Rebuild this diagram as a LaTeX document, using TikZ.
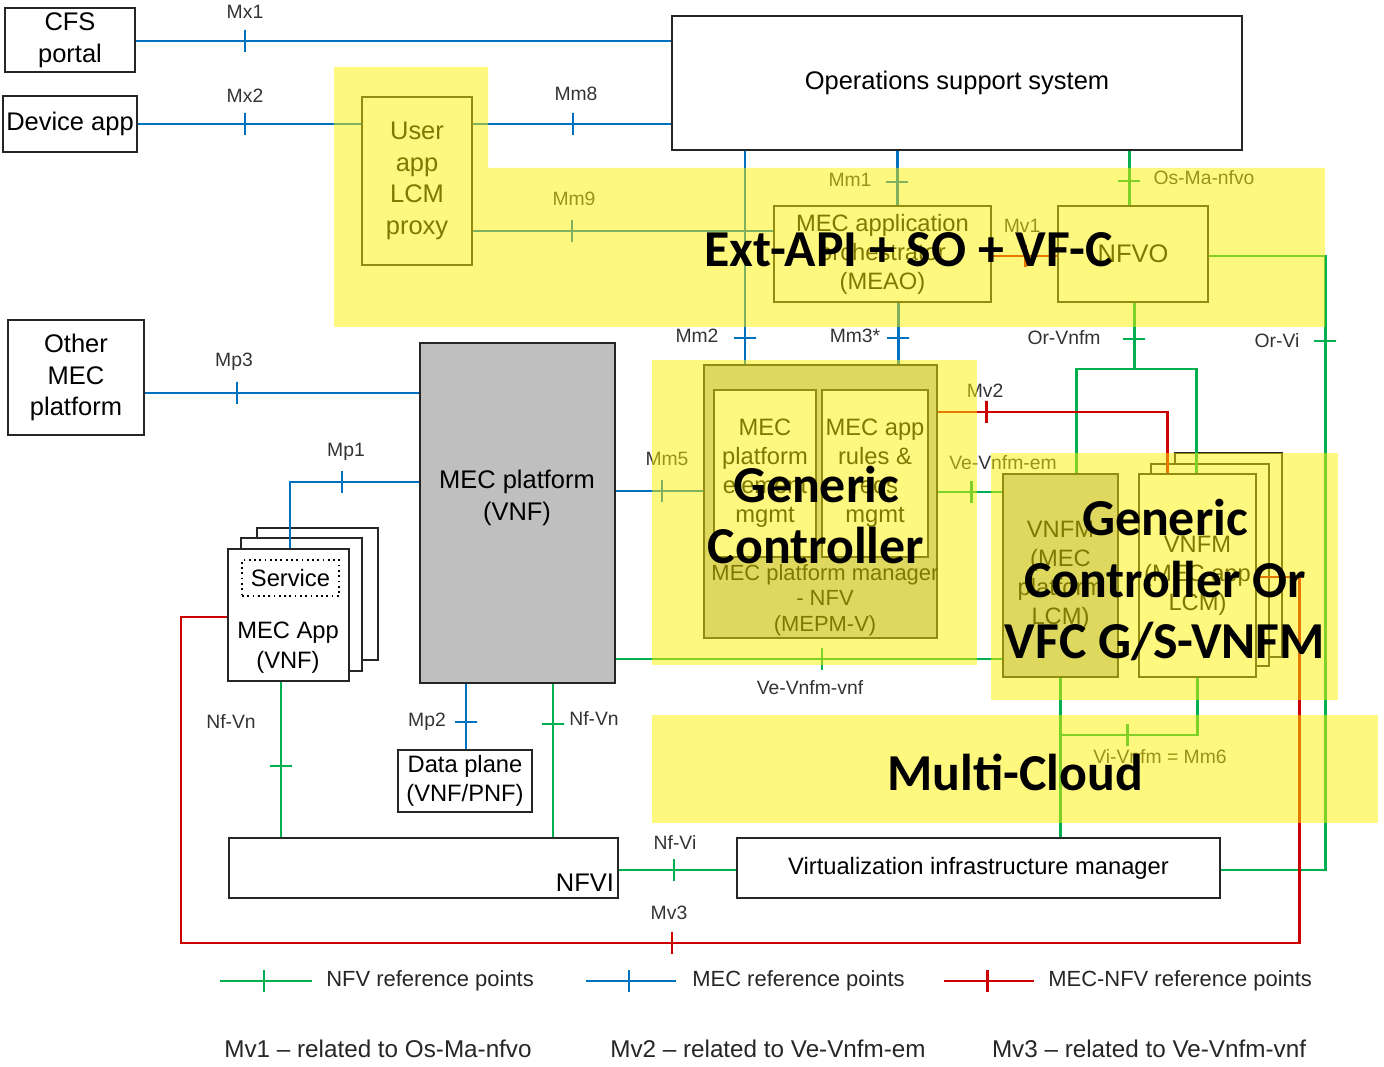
\documentclass[tikz,border=0pt]{standalone}
\usepackage{fontspec}
\setmainfont{Liberation Sans}
\newfontfamily\calfont{Carlito}
\usetikzlibrary{calc}

\definecolor{mecblue}{RGB}{0,112,192}
\definecolor{nfvgreen}{RGB}{0,176,80}
\definecolor{mvred}{RGB}{204,0,0}
\definecolor{platgray}{RGB}{191,191,191}

\newcommand{\boxfont}{\fontsize{14.5}{18}\selectfont}
\newcommand{\smbox}{\fontsize{13.5}{16.5}\selectfont}
\newcommand{\rpfont}{\fontsize{11}{13}\selectfont}
\newcommand{\lgfont}{\fontsize{12.5}{15}\selectfont}
\newcommand{\notefont}{\fontsize{13.8}{16}\selectfont}
\newcommand{\bigfont}{\calfont\bfseries\fontsize{29.5}{35}\selectfont}

\tikzset{
	box/.style={draw=black!85, line width=1.1pt, fill=white, inner sep=0pt, align=center, font=\boxfont},
	sz/.style 2 args={minimum width=#1*0.02cm, minimum height=#2*0.02cm},
	mec/.style={draw=mecblue, line width=1.7pt},
	nfv/.style={draw=nfvgreen, line width=1.7pt},
	mv/.style={draw=mvred, line width=1.7pt},
	tkv/.style={draw=#1, line width=1.7pt, inner sep=0pt, minimum width=0pt, minimum height=0.44cm},
	tkh/.style={draw=#1, line width=1.7pt, inner sep=0pt, minimum height=0pt, minimum width=0.44cm},
	rp/.style={font=\rpfont, text=black!80, inner sep=1pt},
	lgtxt/.style={font=\lgfont, text=black!85, anchor=west, inner sep=0pt},
	hilite/.style={fill=yellow, fill opacity=0.5, draw=none},
	bigtxt/.style={font=\bigfont, align=center, text=black}
}

\begin{document}
\begin{tikzpicture}[x=0.02cm, y=-0.02cm]

	\useasboundingbox (0,0) rectangle (1384,1067);

	% boxes
	\node[box, sz={130}{64}] (cfs) at (70,40) {CFS\\portal};
	\node[box, sz={134}{56}] (devapp) at (70,124) {Device app};
	\node[box, sz={136}{115}] (othermec) at (76,377.5) {Other\\MEC\\platform};
	\node[box, sz={570}{134}] (oss) at (957,83) {Operations support system};
	\node[box, sz={110}{168}] (uproxy) at (417,181) {User\\app\\LCM\\proxy};
	\node[box, font=\smbox, sz={217}{96}] (meao) at (882.5,254) {MEC application\\orchestrator\\(MEAO)};
	\node[box, sz={150}{96}] (nfvo) at (1133,254) {NFVO};

	\node[box, fill=platgray, sz={195}{340}] (mecplat) at (517.5,513) {};
	\node[align=center, font=\boxfont] (mecplattxt) at (517,498) {MEC platform\\(VNF)};

	\node[box, fill=platgray, sz={233}{273}] (mepm) at (820.5,501.5) {};
	\node[align=center, font=\fontsize{12.5}{14.5}\selectfont] (mepmtxt) at (825,600) {MEC platform manager\\- NFV\\(MEPM-V)};
	\node[box, font=\smbox, sz={102}{167}] (elemmgmt) at (765,473.5) {MEC\\platform\\element\\mgmt};
	\node[box, font=\smbox, sz={106}{167}] (rulesmgmt) at (875,473.5) {MEC app\\rules \&\\reqs\\mgmt};

	\node[box, font=\smbox, fill=platgray, sz={115}{203}] (vnfmplat) at (1060.5,575.5) {VNFM\\(MEC\\platform\\LCM)};
	\node[box, sz={107}{204}] (vnfmapp3) at (1228.5,555) {};
	\node[box, sz={118}{202}] (vnfmapp2) at (1210,565) {};
	\node[box, font=\smbox, sz={117}{203}] (vnfmapp) at (1197.5,575.5) {VNFM\\(MEC app\\LCM)};

	\node[box, sz={121}{132}] (mecapp3) at (317.5,594) {};
	\node[box, sz={121}{133}] (mecapp2) at (301.5,604.5) {};
	\node[box, sz={121}{132}] (mecapp) at (288.5,615) {};
	\node[box, draw=black, line width=1pt, dotted, font=\smbox, sz={97}{36}] (service) at (290.5,578) {Service};
	\node[align=center, font=\fontsize{13.5}{17}\selectfont] (mecapptxt) at (288,648) {MEC App\\(VNF)};

	\node[box, font=\smbox, sz={134}{62}] (dplane) at (465,781) {Data plane\\(VNF/PNF)};
	\node[box, sz={389}{60}] (nfvi) at (423.5,868) {};
	\node[font=\boxfont] (nfvitxt) at (585,883) {NFVI};
	\node[box, font=\smbox, sz={483}{60}] (vim) at (978.5,868) {Virtualization infrastructure manager};

	% MEC reference points
	\draw[mec] (cfs.east |- 0,41) -- (oss.west |- 0,41);
	\draw[mec] (devapp.east |- 0,124) -- (uproxy.west |- 0,124);
	\draw[mec] (uproxy.east |- 0,124) -- (oss.west |- 0,124);
	\draw[mec] (uproxy.east |- 0,231) -- (meao.west |- 0,231);
	\draw[mec] (oss.south -| 897,0) -- (meao.north -| 897,0);
	\draw[mec] (oss.south -| 745,0) -- (mepm.north -| 745,0);
	\draw[mec] (meao.south -| 898,0) -- (mepm.north -| 898,0);
	\draw[mec] (othermec.east |- 0,393) -- (mecplat.west |- 0,393);
	\draw[mec] (mecplat.west |- 0,482) -| (mecapp.north -| 290,0);
	\draw[mec] (mecplat.east |- 0,491) -- (mepm.west |- 0,491);
	\draw[mec] (mecplat.south -| 466,0) -- (dplane.north -| 466,0);

	\node[tkv=mecblue] (tMx1) at (245,41) {};
	\node[tkv=mecblue] (tMx2) at (245,124) {};
	\node[tkv=mecblue] (tMm8) at (573,124) {};
	\node[tkv=mecblue] (tMm9) at (572,231) {};
	\node[tkh=mecblue] (tMm1) at (897,182) {};
	\node[tkh=mecblue] (tMm2) at (745,338) {};
	\node[tkh=mecblue] (tMm3) at (898,338) {};
	\node[tkv=mecblue] (tMp3) at (237,393) {};
	\node[tkv=mecblue] (tMp1) at (342,482) {};
	\node[tkv=mecblue] (tMm5) at (662,491) {};
	\node[tkh=mecblue] (tMp2) at (466,722) {};

	% NFV reference points
	\coordinate (orvnfm) at (1134,369);
	\draw[nfv] (oss.south -| 1129,0) -- (nfvo.north -| 1129,0);
	\draw[nfv] (nfvo.south -| orvnfm) -- (orvnfm);
	\draw[nfv] (vnfmplat.north -| 1076,0) -- (1076,369) -- (1196,369) -- (vnfmapp.north -| 1196,0);
	\draw[nfv] (nfvo.east |- 0,256) -- (1325,256) -- (1325,870) -- (vim.east |- 0,870);
	\draw[nfv] (mepm.east |- 0,492) -- (vnfmplat.west |- 0,492);
	\draw[nfv] (mecplat.east |- 0,659) -- (vnfmplat.west |- 0,659);
	\draw[nfv] (vnfmplat.south -| 1060,0) -- (vim.north -| 1060,0);
	\draw[nfv] (vnfmapp.south -| 1197,0) |- (1060,735);
	\draw[nfv] (mecapp.south -| 281,0) -- (nfvi.north -| 281,0);
	\draw[nfv] (mecplat.south -| 553,0) -- (nfvi.north -| 553,0);
	\draw[nfv] (nfvi.east |- 0,870) -- (vim.west |- 0,870);

	\node[tkh=nfvgreen] (tOsMa) at (1129,181) {};
	\node[tkh=nfvgreen] (tOrVnfm) at (1134,339) {};
	\node[tkh=nfvgreen] (tOrVi) at (1325,341) {};
	\node[tkv=nfvgreen] (tVeEm) at (971,492) {};
	\node[tkv=nfvgreen] (tVeVnf) at (822,659) {};
	\node[tkv=nfvgreen] (tViVnfm) at (1127,735) {};
	\node[tkh=nfvgreen] (tNfVnL) at (281,766) {};
	\node[tkh=nfvgreen] (tNfVnR) at (553,724) {};
	\node[tkv=nfvgreen] (tNfVi) at (674,870) {};

	% MEC-NFV reference points
	\draw[mv] (meao.east |- 0,256) -- (nfvo.west |- 0,256);
	\draw[mv] (mepm.east |- 0,412) -- (1167,412) -- (vnfmapp.north -| 1167,0);
	\draw[mv] (mecapp.west |- 0,617) -- (181,617) -- (181,943) -- (1299,943) -- (1299,577) -- (vnfmapp.east |- 0,577);

	\node[tkv=mvred] (tMv1) at (1025,256) {};
	\node[tkv=mvred] (tMv2) at (986,412) {};
	\node[tkv=mvred] (tMv3) at (672,943) {};

	% labels
	\node[rp] (lMx1) at (245,12) {Mx1};
	\node[rp] (lMx2) at (245,96) {Mx2};
	\node[rp] (lMm8) at (576,94) {Mm8};
	\node[rp] (lMm9) at (574,199) {Mm9};
	\node[rp] (lMm1) at (850,180) {Mm1};
	\node[rp] (lMm2) at (697,336) {Mm2};
	\node[rp] (lMm3) at (855,336) {Mm3*};
	\node[rp] (lMp3) at (234,362) {Mp3};
	\node[rp] (lMp1) at (346,452) {Mp1};
	\node[rp] (lMm5) at (667,459) {Mm5};
	\node[rp] (lMp2) at (427,722) {Mp2};
	\node[rp] (lOsMa) at (1204,178) {Os-Ma-nfvo};
	\node[rp] (lOrVnfm) at (1064,338) {Or-Vnfm};
	\node[rp] (lOrVi) at (1277,341) {Or-Vi};
	\node[rp] (lVeEm) at (1003,463) {Ve-Vnfm-em};
	\node[rp] (lVeVnf) at (810,688) {Ve-Vnfm-vnf};
	\node[rp] (lViVnfm) at (1160,757) {Vi-Vnfm = Mm6};
	\node[rp] (lNfVnL) at (231,722) {Nf-Vn};
	\node[rp] (lNfVnR) at (594,719) {Nf-Vn};
	\node[rp] (lNfVi) at (675,842) {Nf-Vi};
	\node[rp] (lMv1) at (1022,226) {Mv1};
	\node[rp] (lMv2) at (985,391) {Mv2};
	\node[rp] (lMv3) at (669,913) {Mv3};

	% legend
	\node[lgtxt] (lgnfv) at (326,981) {NFV reference points};
	\node[lgtxt] (lgmec) at (692,981) {MEC reference points};
	\node[lgtxt] (lgmv) at (1048,981) {MEC-NFV reference points};
	\draw[nfv] (220,981) -- ($(lgnfv.west)+(-14,0)$);
	\draw[mec] (586,981) -- ($(lgmec.west)+(-16,0)$);
	\draw[mv] (944,981) -- ($(lgmv.west)+(-14,0)$);
	\node[tkv=nfvgreen] (tlgnfv) at (264,981) {};
	\node[tkv=mecblue] (tlgmec) at (629,981) {};
	\node[tkv=mvred] (tlgmv) at (987,981) {};

	\node[font=\notefont, text=black!85] (nMv1) at (378,1049) {Mv1 -- related to Os-Ma-nfvo};
	\node[font=\notefont, text=black!85] (nMv2) at (768,1049) {Mv2 -- related to Ve-Vnfm-em};
	\node[font=\notefont, text=black!85] (nMv3) at (1149,1049) {Mv3 -- related to Ve-Vnfm-vnf};

	% highlighted areas
	\fill[hilite] (334,67) -- (488,67) -- (488,168) -- (1325,168) -- (1325,327) -- (334,327) -- cycle;
	\fill[hilite] (652,360) rectangle (977,665);
	\fill[hilite] (991,453) rectangle (1338,700);
	\fill[hilite] (652,715) rectangle (1378,823);

	\node[bigtxt] (extapi) at (909,250) {Ext-API + SO + VF-C};
	\node[bigtxt] (genctrl) at (816,515) {Generic\\Controller};
	\node[bigtxt] (genvnfm) at (1165,580) {Generic\\Controller Or\\VFC G/S-VNFM};
	\node[bigtxt] (multicloud) at (1015,772) {Multi-Cloud};

\end{tikzpicture}
\end{document}
